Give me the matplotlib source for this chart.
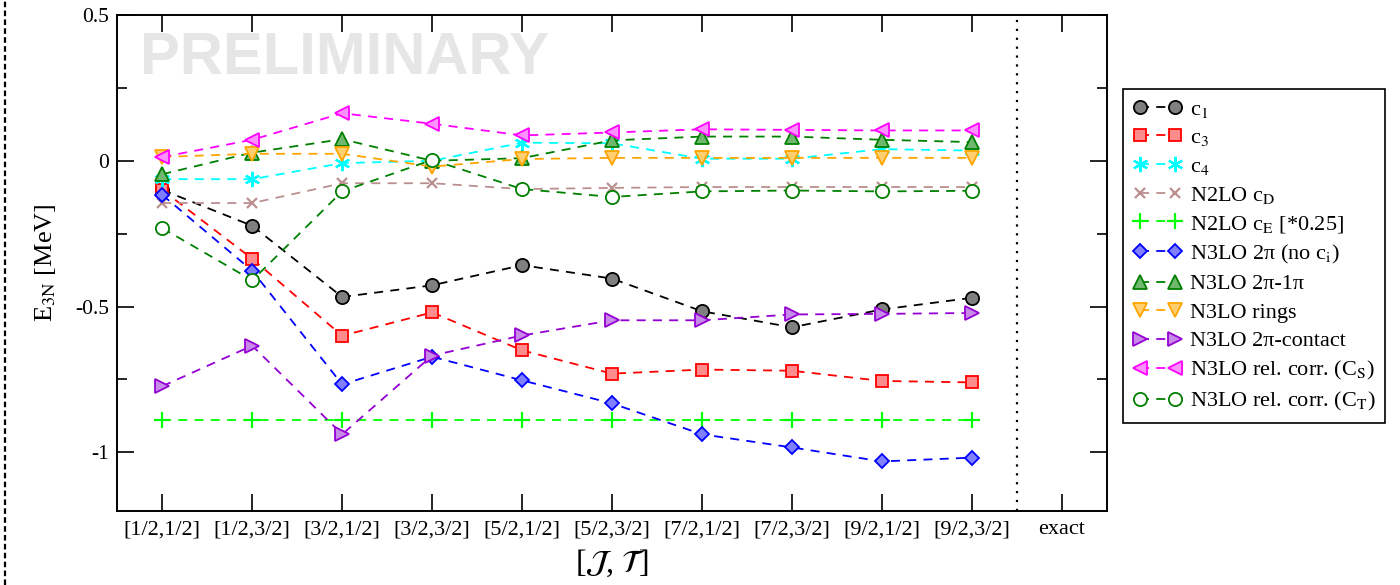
import numpy as np
import matplotlib
matplotlib.use("Agg")
import matplotlib.pyplot as plt
from matplotlib.lines import Line2D

plt.rcParams['font.family'] = ['Liberation Serif', 'DejaVu Serif']
plt.rcParams['mathtext.fontset'] = 'stix'
plt.rcParams['axes.unicode_minus'] = False

# channels [J, T] plus the "exact" slot (no data there)
channels = ['[1/2,1/2]', '[1/2,3/2]', '[3/2,1/2]', '[3/2,3/2]', '[5/2,1/2]',
            '[5/2,3/2]', '[7/2,1/2]', '[7/2,3/2]', '[9/2,1/2]', '[9/2,3/2]']
tick_labels = channels + ['exact']

# E_3N contributions in MeV
c1 = [-0.10, -0.223, -0.467, -0.427, -0.358, -0.404, -0.516, -0.571, -0.51, -0.47]
c3 = [-0.10, -0.336, -0.60, -0.52, -0.65, -0.73, -0.716, -0.72, -0.755, -0.76]
c4 = [-0.063, -0.063, -0.008, 0.0, 0.062, 0.06, 0.007, 0.007, 0.04, 0.035]
n2lo_cD = [-0.145, -0.145, -0.077, -0.077, -0.097, -0.093, -0.09, -0.09, -0.09, -0.09]
n2lo_cE = [-0.889, -0.889, -0.889, -0.889, -0.889, -0.889, -0.889, -0.889, -0.889, -0.889]
n3lo_2pi = [-0.117, -0.377, -0.767, -0.672, -0.753, -0.832, -0.938, -0.983, -1.031, -1.018]
n3lo_2pi1pi = [-0.046, 0.028, 0.074, 0.0, 0.009, 0.07, 0.083, 0.083, 0.072, 0.064]
n3lo_rings = [0.013, 0.024, 0.024, -0.02, 0.006, 0.01, 0.01, 0.01, 0.01, 0.01]
n3lo_2pic = [-0.773, -0.634, -0.938, -0.668, -0.599, -0.547, -0.547, -0.527, -0.525, -0.522]
n3lo_relCS = [0.013, 0.072, 0.163, 0.127, 0.087, 0.097, 0.108, 0.106, 0.104, 0.104]
n3lo_relCT = [-0.231, -0.41, -0.105, 0.003, -0.097, -0.124, -0.105, -0.102, -0.105, -0.103]

series = [
    (c1, 'c$_1$', 'black', '#808080', 'o', 9.5),
    (c3, 'c$_3$', 'red', '#ff8c8c', 's', 8.5),
    (c4, 'c$_4$', 'cyan', 'cyan', (6, 2, 0), 11),
    (n2lo_cD, 'N2LO c$_\\mathrm{D}$', 'rosybrown', 'rosybrown', 'x', 7),
    (n2lo_cE, 'N2LO c$_\\mathrm{E}$ [*0.25]', 'lime', 'lime', '+', 11),
    (n3lo_2pi, 'N3LO 2π (no c$_\\mathrm{i}$)', 'blue', '#8080ff', 'D', 7.5),
    (n3lo_2pi1pi, 'N3LO 2π-1π', 'green', '#70b870', '^', 9.5),
    (n3lo_rings, 'N3LO rings', 'orange', '#ffcf70', 'v', 9.5),
    (n3lo_2pic, 'N3LO 2π-contact', 'darkviolet', '#c88ae8', '>', 9.5),
    (n3lo_relCS, 'N3LO rel. corr. (C$_\\mathrm{S}$)', 'magenta', '#ff90ff', '<', 9.5),
    (n3lo_relCT, 'N3LO rel. corr. (C$_\\mathrm{T}$)', 'green', 'white', 'o', 9.5),
]

fig = plt.figure(figsize=(14, 5.85), dpi=100)
ax = fig.add_axes([0.0838, 0.127, 0.7067, 0.8474])

x = np.arange(len(channels))
for vals, label, col, face, mk, ms in series:
    thin = isinstance(mk, tuple) or mk in ('x', '+')
    ax.plot(x, vals, linestyle=(0, (5, 4)), lw=1.3, color=col, marker=mk,
            markersize=ms, markerfacecolor=face, markeredgecolor=col,
            markeredgewidth=1.6 if thin else 1.3, label=label, zorder=3)

ax.axvline(len(channels) - 0.5, color='black', ls=(0, (1, 3)), lw=1.6, zorder=2)

ax.text((140 - 117.3) / (1106.7 - 117.3), 0.913, 'PRELIMINARY',
        transform=ax.transAxes, family='Liberation Sans', weight='bold',
        fontsize=43, color='#e6e6e6', va='center', ha='left', zorder=0)

ax.set_xlim(-0.5, len(tick_labels) - 0.5)
ax.set_ylim(-1.2, 0.5)
ax.set_xticks(np.arange(len(tick_labels)))
ax.set_xticklabels(tick_labels, fontsize=16)
ax.set_yticks([-1, -0.5, 0, 0.5])
ax.set_yticklabels(['-1', '-0.5', '0', '0.5'], fontsize=15.5)
ax.set_yticks([-0.75, -0.25, 0.25], minor=True)
ax.tick_params(axis='x', which='major', pad=7)
ax.tick_params(axis='y', which='major', pad=6)
ax.tick_params(axis='both', which='major', direction='in', length=12, width=1.2,
               top=True, right=True)
ax.tick_params(axis='y', which='minor', direction='in', length=7, width=1.2, right=True)
for s in ax.spines.values():
    s.set_linewidth(1.4)

ax.set_ylabel('E$_\\mathrm{3N}$ [MeV]', fontsize=19, labelpad=12)
ax.set_xlabel('[$\\mathcal{J}$, $\\mathcal{T}$]', fontsize=23, labelpad=5)

leg = ax.legend(loc='upper left', bbox_to_anchor=(1123 / 1400, 1 - 89 / 585),
                bbox_transform=fig.transFigure, borderaxespad=0, fontsize=16,
                numpoints=2, handlelength=2.2, labelspacing=0.36, fancybox=False,
                framealpha=1, edgecolor='black', borderpad=0.45, handletextpad=0.35)
leg.get_frame().set_linewidth(1.2)

fig.add_artist(Line2D([5 / 1400, 5 / 1400], [0, 1], transform=fig.transFigure,
                      color='black', lw=1.6, ls=(0, (2.5, 1.5))))

fig.savefig('out.png', dpi=100)
